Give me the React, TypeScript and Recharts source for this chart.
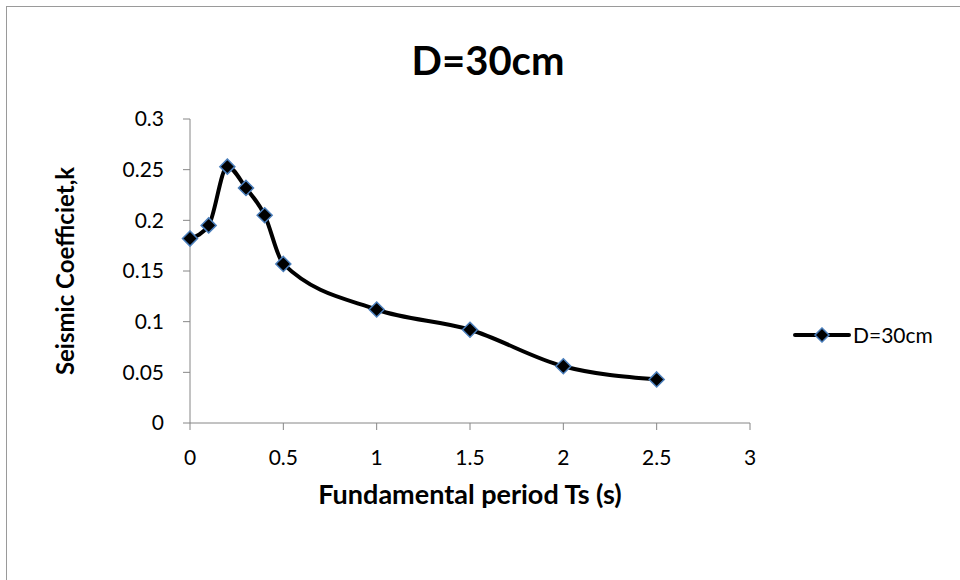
import { LineChart, Line, XAxis, YAxis, Legend, Label } from 'recharts';

const periods = [0, 0.1, 0.2, 0.3, 0.4, 0.5, 1, 1.5, 2, 2.5];
const coefficients = [0.182, 0.195, 0.253, 0.232, 0.205, 0.157, 0.112, 0.092, 0.056, 0.043];
const xTicks = [0, 0.5, 1, 1.5, 2, 2.5, 3];
const yTicks = [0, 0.05, 0.1, 0.15, 0.2, 0.25, 0.3];
const seriesName = 'D=30cm';

const data = periods.map((x, i) => ({ x, k: coefficients[i] }));

const FONT = 'Lato, "Noto Sans", sans-serif';
const AXIS = '#868686';

const Diamond = (props: any) => {
  const { cx, cy } = props;
  if (cx == null || cy == null) return null;
  const r = 7.5;
  return (
    <polygon
      points={`${cx},${cy - r} ${cx + r},${cy} ${cx},${cy + r} ${cx - r},${cy}`}
      fill="#000"
      stroke="#4a7ebb"
      strokeWidth={1.5}
    />
  );
};

const LegendContent = (props: any) => {
  const item = props.payload?.[0];
  return (
    <div style={{ display: 'flex', alignItems: 'center', fontFamily: FONT, fontSize: 21, color: '#000' }}>
      <svg width={58} height={16}>
        <line x1={2} y1={8} x2={56} y2={8} stroke="#000" strokeWidth={4} strokeLinecap="round" />
        <polygon points="29,1 36,8 29,15 22,8" fill="#000" stroke="#4a7ebb" strokeWidth={1.5} />
      </svg>
      <span style={{ marginLeft: 2 }}>{item ? item.value : seriesName}</span>
    </div>
  );
};

export default function App() {
  return (
    <div style={{ position: 'absolute', left: 0, top: 0, width: 960, height: 580, background: '#fff' }}>
      <div
        style={{
          position: 'absolute',
          left: 6,
          top: 6,
          width: 960,
          height: 580,
          border: '1.5px solid #9a9a9a',
          boxSizing: 'border-box',
        }}
      />
      <div
        style={{
          position: 'absolute',
          top: 36,
          left: 0,
          width: 976,
          textAlign: 'center',
          fontFamily: FONT,
          fontWeight: 'bold',
          fontSize: 40,
          lineHeight: '48px',
        }}
      >
        D=30cm
      </div>
      <LineChart
        width={960}
        height={580}
        data={data}
        margin={{ top: 119, right: 40, bottom: 77, left: 110 }}
        style={{ position: 'absolute', left: 0, top: 0 }}
      >
        <XAxis
          dataKey="x"
          type="number"
          domain={[0, 3]}
          ticks={xTicks}
          stroke={AXIS}
          tickSize={7}
          tickMargin={20}
          tick={{ fill: '#000', fontFamily: FONT, fontSize: 21 }}
          height={80}
        >
          <Label
            value="Fundamental period Ts (s)"
            position="insideTop"
            offset={62}
            style={{ fill: '#000', fontFamily: FONT, fontWeight: 'bold', fontSize: 27 }}
          />
        </XAxis>
        <YAxis
          type="number"
          domain={[0, 0.3]}
          ticks={yTicks}
          stroke={AXIS}
          tickSize={7}
          tickMargin={19}
          tick={{ fill: '#000', fontFamily: FONT, fontSize: 21 }}
          width={80}
        >
          <Label
            value="Seismic Coefficiet,k"
            angle={-90}
            position="insideLeft"
            offset={-45}
            style={{ fill: '#000', fontFamily: FONT, fontWeight: 'bold', fontSize: 24, textAnchor: 'middle' }}
          />
        </YAxis>
        <Legend
          layout="vertical"
          align="right"
          verticalAlign="middle"
          content={<LegendContent />}
          wrapperStyle={{ left: 793, top: 322, width: 170 }}
        />
        <Line
          type="monotone"
          dataKey="k"
          name={seriesName}
          stroke="#000"
          strokeWidth={4}
          dot={<Diamond />}
          activeDot={false}
          isAnimationActive={false}
        />
      </LineChart>
    </div>
  );
}
